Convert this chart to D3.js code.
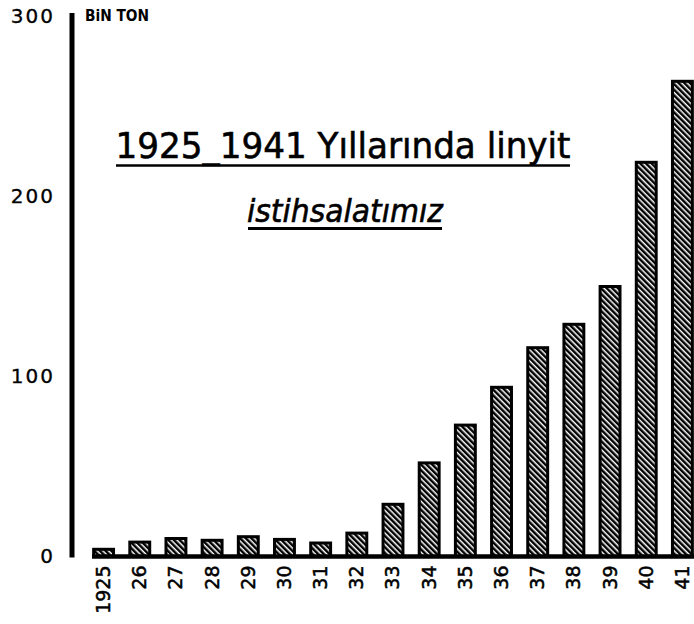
<!DOCTYPE html>
<html>
<head>
<meta charset="utf-8">
<script src="https://cdn.jsdelivr.net/npm/d3@7"></script>
<style>
  html, body { margin: 0; padding: 0; background: #fff; }
  svg { display: block; }
</style>
</head>
<body>
<svg id="chart" width="694" height="624"></svg>
<script>
// ---- data ----
const years = ["1925","26","27","28","29","30","31","32","33","34","35","36","37","38","39","40","41"];
const production = [4, 8, 10, 9, 11, 9.5, 7.5, 13, 29, 52, 73, 94, 116, 129, 150, 219, 264];
const yTicks = [0, 100, 200, 300];
const unitLabel = "BiN TON";
const titleLine1 = "1925_1941 Yıllarında linyit";
const titleLine2 = "istihsalatımız";

const svg = d3.select("#chart");
const W = 694, H = 624;
svg.append("rect").attr("width", W).attr("height", H).attr("fill", "#fff");

// hatch pattern
const defs = svg.append("defs");
const pat = defs.append("pattern")
  .attr("id", "hatch").attr("patternUnits", "userSpaceOnUse")
  .attr("width", 4).attr("height", 4)
  .attr("patternTransform", "rotate(-45)");
pat.append("rect").attr("width", 4).attr("height", 4).attr("fill", "#fff");
pat.append("rect").attr("x", 0).attr("width", 2.5).attr("height", 4).attr("fill", "#000");

const x = d3.scaleBand().domain(years).range([85.5, 700.5]).paddingInner(0.45).paddingOuter(0.225);
const y = d3.scaleLinear().domain([0, 300]).range([556.5, 16.5]);

// bars
svg.append("g").selectAll("rect").data(years).join("rect")
  .attr("x", d => x(d))
  .attr("y", (d, i) => y(production[i]))
  .attr("width", x.bandwidth())
  .attr("height", (d, i) => y(0) - y(production[i]))
  .attr("fill", "url(#hatch)")
  .attr("stroke", "#000")
  .attr("stroke-width", 3);

// x axis (baseline)
const xAxis = d3.axisBottom(x).tickSize(0).tickPadding(8);
const gx = svg.append("g").attr("transform", `translate(0,${y(0)})`).call(xAxis);
gx.select(".domain").attr("d", `M92,0H694`).attr("stroke", "#000").attr("stroke-width", 4.5);
gx.selectAll(".tick text")
  .attr("transform", "rotate(-90)")
  .attr("x", -9).attr("y", 0).attr("dy", "0.34em")
  .attr("text-anchor", "end")
  .attr("font-family", "DejaVu Sans")
  .attr("font-size", 19)
  .attr("fill", "#000")
  .attr("stroke", "#000").attr("stroke-width", 0.5);

// y axis
const yAxis = d3.axisLeft(y).tickValues(yTicks).tickSize(0).tickPadding(17);
const gy = svg.append("g").attr("transform", "translate(72,0)").call(yAxis);
gy.select(".domain").attr("d", `M0,${y(0) + 1}V13`).attr("stroke", "#000").attr("stroke-width", 5);
gy.selectAll(".tick text")
  .attr("font-family", "DejaVu Sans")
  .attr("font-size", 20)
  .attr("letter-spacing", 2)
  .attr("fill", "#000")
  .attr("stroke", "#000").attr("stroke-width", 0.3);

// unit label
svg.append("text").attr("x", 85).attr("y", 21)
  .attr("font-family", "DejaVu Sans Condensed, DejaVu Sans")
  .attr("font-weight", "bold").attr("font-size", 15)
  .attr("textLength", 64).attr("lengthAdjust", "spacingAndGlyphs")
  .text(unitLabel);

// title
svg.append("text").attr("x", 343).attr("y", 158)
  .attr("text-anchor", "middle")
  .attr("font-family", "DejaVu Sans")
  .attr("font-size", 36)
  .attr("textLength", 455).attr("lengthAdjust", "spacingAndGlyphs")
  .attr("stroke", "#000").attr("stroke-width", 0.6)
  .text(titleLine1);
svg.append("line").attr("x1", 116).attr("x2", 570).attr("y1", 165.5).attr("y2", 165.5)
  .attr("stroke", "#000").attr("stroke-width", 2.5);

svg.append("text").attr("x", 345).attr("y", 222)
  .attr("text-anchor", "middle")
  .attr("font-family", "DejaVu Sans")
  .attr("font-style", "italic")
  .attr("font-size", 32)
  .attr("textLength", 196).attr("lengthAdjust", "spacingAndGlyphs")
  .attr("stroke", "#000").attr("stroke-width", 0.6)
  .text(titleLine2);
svg.append("line").attr("x1", 248).attr("x2", 442).attr("y1", 228.5).attr("y2", 228.5)
  .attr("stroke", "#000").attr("stroke-width", 3);
</script>
</body>
</html>
